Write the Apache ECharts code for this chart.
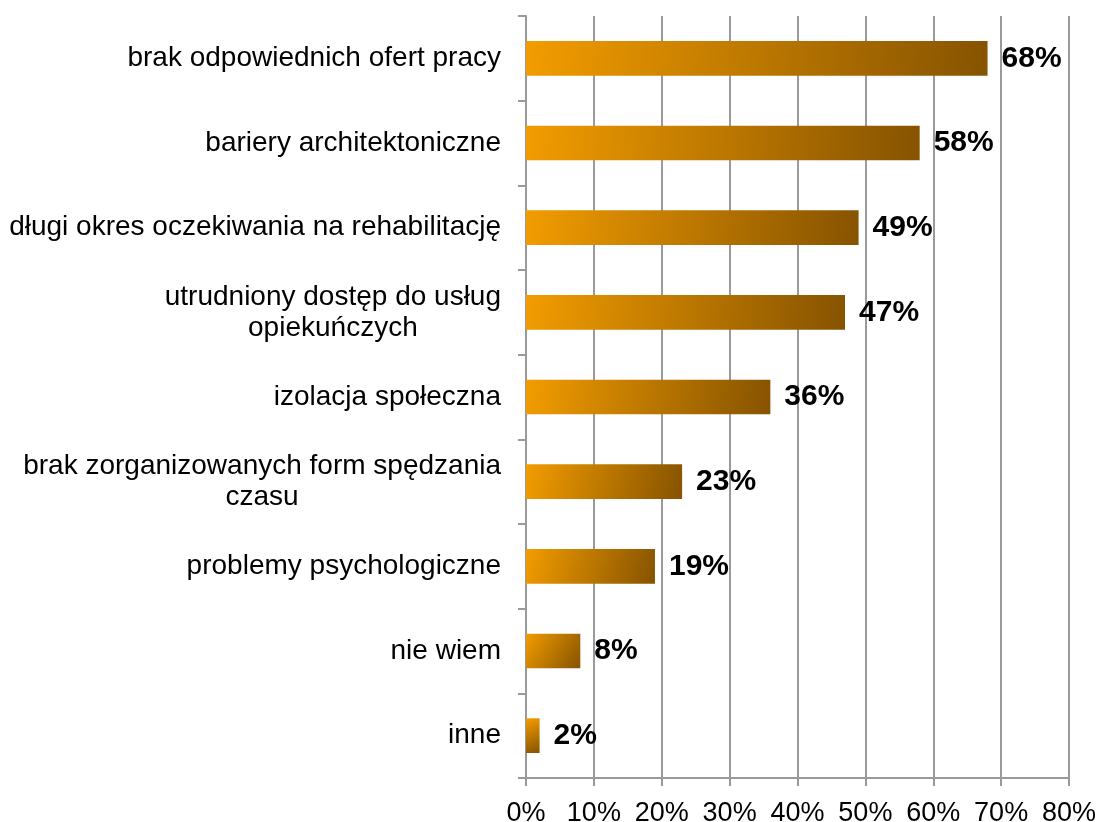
<!DOCTYPE html>
<html>
<head>
<meta charset="utf-8">
<script src="https://cdn.jsdelivr.net/npm/echarts@6/dist/echarts.min.js"></script>
<style>
  html, body { margin: 0; padding: 0; background: #fff; }
  #chart { width: 1102px; height: 822px; }
</style>
</head>
<body>
<div id="chart"></div>
<script>
// Bariery – odsetek wskazań (%)
const categories = [
  'brak odpowiednich ofert pracy',
  'bariery architektoniczne',
  'długi okres oczekiwania na rehabilitację',
  'utrudniony dostęp do usług\nopiekuńczych',
  'izolacja społeczna',
  'brak zorganizowanych form spędzania\nczasu',
  'problemy psychologiczne',
  'nie wiem',
  'inne'
];
const values = [68, 58, 49, 47, 36, 23, 19, 8, 2];
const axisMax = 80;
const axisStep = 10;

const FONT = '"Liberation Sans", Arial, sans-serif';
const GRAY = '#9a9a9a';

// each line of a wrapped category label is centred inside its block
function catLabel(text) {
  return text.split('\n').map(function (line) { return '{c|' + line + '}'; }).join('\n');
}

const chart = echarts.init(document.getElementById('chart'), null, { renderer: 'canvas' });
chart.setOption({
  animation: false,
  backgroundColor: '#ffffff',
  grid: {
    left: 526, right: 33, top: 16, bottom: 44,
    containLabel: false,
    outerBoundsMode: 'none'
  },
  xAxis: {
    type: 'value',
    min: 0,
    max: axisMax,
    interval: axisStep,
    axisLine: { show: true, lineStyle: { color: GRAY, width: 2 } },
    axisTick: { show: true, length: 8, lineStyle: { color: GRAY, width: 2 } },
    splitLine: { show: true, lineStyle: { color: GRAY, width: 2 } },
    axisLabel: {
      formatter: '{value}%',
      fontFamily: FONT,
      fontSize: 27,
      color: '#000',
      margin: 22
    }
  },
  yAxis: {
    type: 'category',
    inverse: true,
    data: categories,
    axisLine: { show: true, lineStyle: { color: GRAY, width: 2 } },
    axisTick: { show: true, length: 8, lineStyle: { color: GRAY, width: 2 } },
    axisLabel: {
      formatter: catLabel,
      fontFamily: FONT,
      fontSize: 28,
      color: '#000',
      margin: 25,
      align: 'right',
      lineHeight: 31,
      rich: {
        c: { fontFamily: FONT, fontSize: 28, color: '#000', align: 'center', lineHeight: 31 }
      }
    }
  },
  series: [{
    type: 'bar',
    data: values,
    barCategoryGap: '59%',
    itemStyle: {
      color: new echarts.graphic.LinearGradient(0, 0, 1, 1, [
        { offset: 0, color: '#f29c00' },
        { offset: 1, color: '#865300' }
      ])
    },
    label: {
      show: true,
      position: 'right',
      distance: 14,
      formatter: '{c}%',
      fontFamily: FONT,
      fontWeight: 'bold',
      fontSize: 30,
      color: '#000'
    }
  }]
});
</script>
</body>
</html>
